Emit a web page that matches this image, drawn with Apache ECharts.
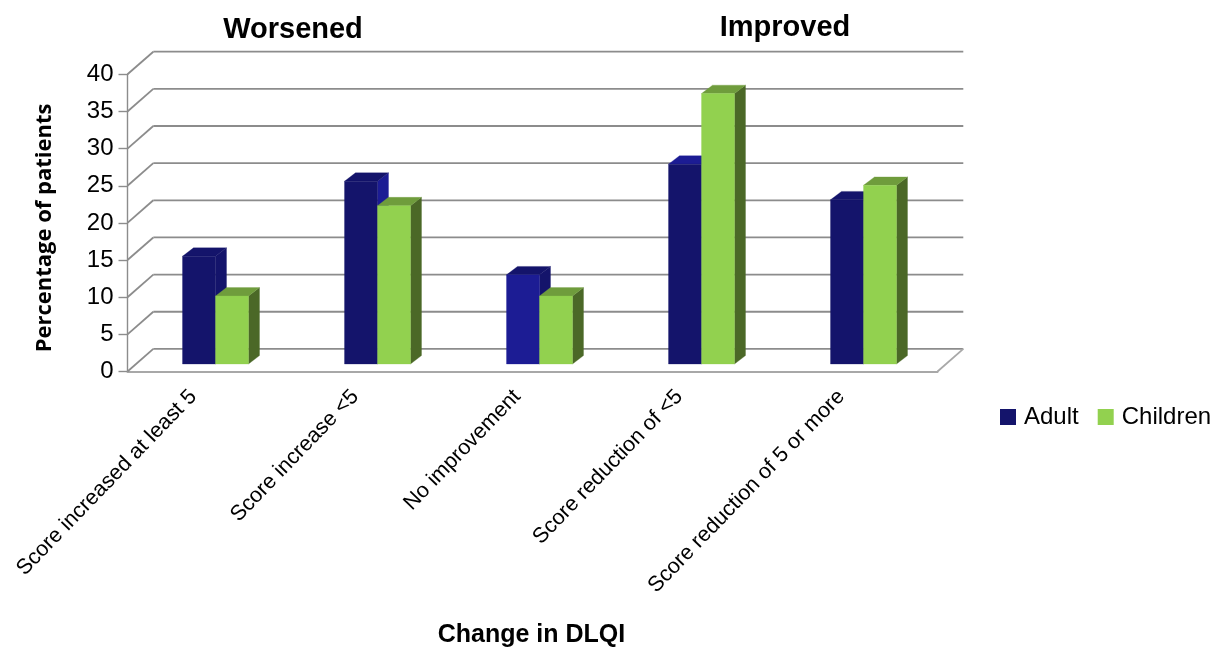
<!DOCTYPE html>
<html>
<head>
<meta charset="utf-8">
<style>html,body{margin:0;padding:0;background:#fff}#chart{width:1227px;height:649px}</style>
<script src="https://cdn.jsdelivr.net/npm/echarts@6/dist/echarts.min.js"></script>
</head>
<body>
<div id="chart"></div>
<script>
// DLQI change by patient group
const categories = ['Score increased at least 5', 'Score increase <5', 'No improvement', 'Score reduction of <5', 'Score reduction of 5 or more'];
const adult = [14.5, 24.6, 12.0, 26.9, 22.1];
const children = [9.15, 21.3, 9.15, 36.4, 24.05];
const valueTicks = [0, 5, 10, 15, 20, 25, 30, 35, 40];

// Shades of the two box colours
const NAVY = '#14146b', BLUE = '#1c1c94';
const adultFront = [NAVY, NAVY, BLUE, NAVY, NAVY];
const adultTop = [NAVY, NAVY, NAVY, BLUE, NAVY];
const adultSide = [NAVY, BLUE, NAVY, BLUE, NAVY];
const childFront = '#92d14f', childTop = '#6f9c3c', childSide = '#4b6827';
const GRID = '#8c8c8c', FLOOR = '#a8a8a8';

// Oblique projection of the chart box
const WALL_DX = 25.8, WALL_DY = 22.6;      // front plane to back wall
const FLOOR_DY = 7.5;                       // front plane to front of the boxes
const BOX_DX = 11, BOX_DY = 8.4;            // box depth
const BOX_W = 33;

function poly(points, fill) {
  return { type: 'polygon', shape: { points }, style: { fill, stroke: fill, lineWidth: 0.3 } };
}

// One 3D box per value; xFrom is the left edge relative to the category centre
function boxRenderer(xFrom, fronts, tops, sides) {
  return function (params, api) {
    const i = api.value(0);
    const c = api.coord([i, 0]);
    const t = api.coord([i, api.value(1)]);
    const x0 = c[0] + xFrom, x1 = x0 + BOX_W;
    const yB = c[1] - FLOOR_DY, yT = t[1] - FLOOR_DY;
    const front = Array.isArray(fronts) ? fronts[i] : fronts;
    const top = Array.isArray(tops) ? tops[i] : tops;
    const side = Array.isArray(sides) ? sides[i] : sides;
    return {
      type: 'group',
      children: [
        poly([[x1, yT], [x1 + BOX_DX, yT - BOX_DY], [x1 + BOX_DX, yB - BOX_DY], [x1, yB]], side),
        poly([[x0, yT], [x0 + BOX_DX, yT - BOX_DY], [x1 + BOX_DX, yT - BOX_DY], [x1, yT]], top),
        poly([[x0, yT], [x1, yT], [x1, yB], [x0, yB]], front)
      ]
    };
  };
}

// Back wall rule and left wall diagonal for one axis value
function wallRenderer(params, api) {
  const v = api.value(1);
  const a = api.coord([0, v]);
  const xLeft = params.coordSys.x;
  const xRight = xLeft + params.coordSys.width;
  const line = (x1, y1, x2, y2, stroke) => ({
    type: 'line', shape: { x1, y1, x2, y2 }, style: { stroke, lineWidth: 1.8 }
  });
  const bx = xLeft + WALL_DX, by = a[1] - WALL_DY;
  const parts = [
    line(xLeft, a[1], bx, by, GRID),
    line(bx, by, xRight + WALL_DX, by, GRID)
  ];
  if (v === 0) {
    parts.push(line(xRight, a[1], xRight + WALL_DX, by, FLOOR));
  }
  return { type: 'group', children: parts };
}

const chart = echarts.init(document.getElementById('chart'), null, { renderer: 'canvas' });
chart.setOption({
  animation: false,
  backgroundColor: '#fff',
  textStyle: { fontFamily: '"Liberation Sans", Arial, sans-serif' },
  title: [
    { text: 'Worsened', left: 288, top: 10, textAlign: 'center',
      textStyle: { fontFamily: '"Liberation Sans"', fontWeight: 'bold', fontSize: 29, color: '#000' } },
    { text: 'Improved', left: 780, top: 8, textAlign: 'center',
      textStyle: { fontFamily: '"Liberation Sans"', fontWeight: 'bold', fontSize: 29, color: '#000' } }
  ],
  legend: {
    left: 995, top: 400, itemWidth: 16, itemHeight: 16, itemGap: 19,
    icon: 'rect',
    data: ['Adult', 'Children'],
    textStyle: { fontFamily: '"Liberation Sans"', fontSize: 24, color: '#000', padding: [0, 0, 0, 3] }
  },
  grid: { left: 127.5, top: 74.3, width: 810, height: 297.2 },
  xAxis: {
    type: 'category',
    data: categories,
    axisLine: { lineStyle: { color: FLOOR, width: 2 } },
    axisTick: { show: false },
    axisLabel: {
      rotate: 46, interval: 0, margin: 6, fontSize: 21.5, color: '#000',
      fontFamily: '"Liberation Sans"', padding: [0, 22, 0, 0]
    },
    name: 'Change in DLQI',
    nameLocation: 'middle',
    nameGap: 251,
    nameTextStyle: { fontFamily: '"Liberation Sans"', fontWeight: 'bold', fontSize: 25, color: '#000', padding: [0, 2, 0, 0] }
  },
  yAxis: {
    type: 'value',
    min: 0, max: 40, interval: 5,
    axisLine: { show: true, lineStyle: { color: GRID, width: 1.4 } },
    axisTick: { show: true, length: 9, lineStyle: { color: GRID, width: 1.4 } },
    splitLine: { show: false },
    axisLabel: { margin: 14, fontSize: 24, color: '#000', fontFamily: '"Liberation Sans"', padding: [4, 0, 0, 0] },
    name: 'Percentage of patients',
    nameLocation: 'middle',
    nameGap: 72,
    nameTextStyle: { fontFamily: '"Open Sans"', fontWeight: 'bold', fontSize: 22, color: '#000', padding: [0, 10, 0, 0] }
  },
  series: [
    {
      name: 'Walls', type: 'custom', silent: true, z: 1,
      renderItem: wallRenderer,
      data: valueTicks.map(v => [0, v]),
      encode: { x: 0, y: 1 }
    },
    {
      name: 'Adult', type: 'custom', z: 2,
      itemStyle: { color: NAVY },
      renderItem: boxRenderer(-26, adultFront, adultTop, adultSide),
      data: adult.map((v, i) => [i, v]),
      encode: { x: 0, y: 1 }
    },
    {
      name: 'Children', type: 'custom', z: 3,
      itemStyle: { color: childFront },
      renderItem: boxRenderer(7, childFront, childTop, childSide),
      data: children.map((v, i) => [i, v]),
      encode: { x: 0, y: 1 }
    }
  ]
});
</script>
</body>
</html>
